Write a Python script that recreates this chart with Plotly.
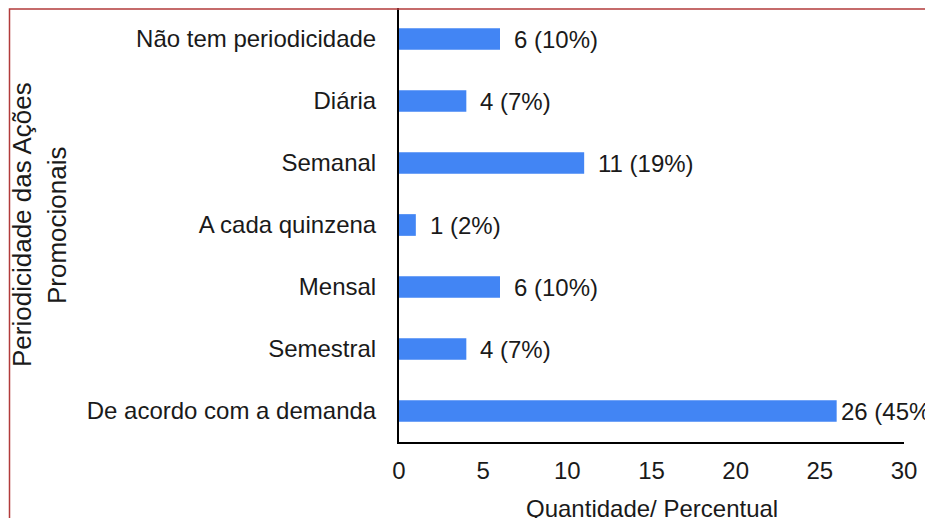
import plotly.graph_objects as go

categories = ["Não tem periodicidade", "Diária", "Semanal", "A cada quinzena",
              "Mensal", "Semestral", "De acordo com a demanda"]
quantidade = [6, 4, 11, 1, 6, 4, 26]
percentual = ["10%", "7%", "19%", "2%", "10%", "7%", "45%"]
x_ticks = [0, 5, 10, 15, 20, 25, 30]

# the page body adds an 8px offset, so the figure is sized for the remaining area
W, H = 925, 510
L, R, T, B = 391, 29, 0, 76
pw, ph = W - L - R, H - T - B

FONT = "Liberation Sans, Arial, sans-serif"
TXT = "#1a1a1a"
FS = 24

fig = go.Figure(go.Bar(
    y=categories, x=quantidade, orientation="h",
    marker=dict(color="#4285f4", line=dict(width=0)),
    width=0.35, hoverinfo="skip",
))

qmax = max(quantidade)
for c, q, p in zip(categories, quantidade, percentual):
    fig.add_annotation(x=q, y=c, xref="x", yref="y", text=f"{q} ({p})",
                       showarrow=False, xanchor="left", yanchor="middle",
                       xshift=2 if q == qmax else 12,
                       font=dict(size=FS, color=TXT, family=FONT))

# axis titles
for txt, px in [("Periodicidade das Ações", 14), ("Promocionais", 49)]:
    fig.add_annotation(xref="paper", yref="paper", x=(px - L) / pw, y=0.5,
                       text=txt, textangle=-90,
                       showarrow=False, xanchor="center", yanchor="middle",
                       font=dict(size=26, color=TXT, family=FONT))
fig.add_annotation(xref="paper", yref="paper", x=0.5, y=-(500 - (H - B)) / ph,
                   text="Quantidade/ Percentual", showarrow=False,
                   xanchor="center", yanchor="middle",
                   font=dict(size=FS, color=TXT, family=FONT))

# red frame (left and top)
fx = (1.5 - L) / pw
fy = 1 - 1 / ph
fig.add_shape(type="path", xref="paper", yref="paper",
              path=f"M {fx} {-(B + 5) / ph} L {fx} {fy} L {1 + (R + 5) / pw} {fy}",
              line=dict(color="#b23b3b", width=1.5))

fig.update_layout(
    width=W, height=H,
    margin=dict(l=L, r=R, t=T, b=B, autoexpand=False),
    paper_bgcolor="white", plot_bgcolor="white",
    showlegend=False,
    font=dict(family=FONT, color=TXT),
)
fig.update_xaxes(range=[0, 30], tickvals=x_ticks, ticktext=[str(v) for v in x_ticks],
                 showgrid=False, zeroline=False, showline=True, linecolor="#000000",
                 linewidth=2, ticks="", tickfont=dict(size=FS, color=TXT, family=FONT),
                 ticklabelstandoff=6, automargin=False)
fig.update_yaxes(categoryorder="array", categoryarray=categories[::-1],
                 showgrid=False, zeroline=False, showline=True, linecolor="#000000",
                 linewidth=2, ticks="", tickfont=dict(size=FS, color=TXT, family=FONT),
                 ticklabelstandoff=16, automargin=False)

fig.write_html("out.html")
